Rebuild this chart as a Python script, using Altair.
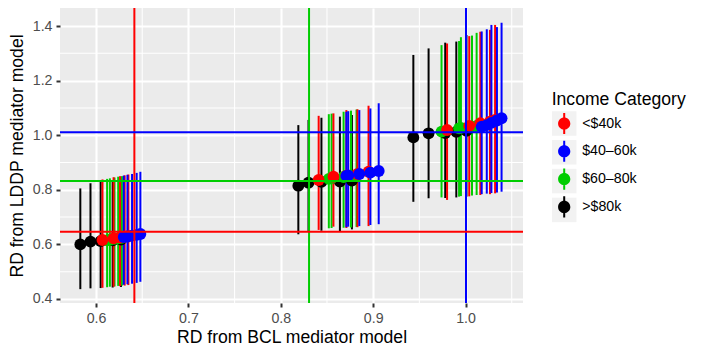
import altair as alt
import pandas as pd

# ---------------- data ----------------
categories = ["<$40k", "\u00a0$40\u201360k", "$60\u201380k", ">$80k"]
cat_colors = ["#FF0000", "#0000FF", "#00CD00", "#000000"]
key_ids = ["k1", "k2", "k3", "k4"]

red_x = [0.607, 0.619, 0.626, 0.631, 0.635, 0.841, 0.857, 0.871, 0.883, 0.895, 0.980, 1.004, 1.016, 1.0265, 1.032]
red_y = [0.616, 0.622, 0.625, 0.628, 0.630, 0.836, 0.848, 0.852, 0.858, 0.866, 1.019, 1.034, 1.044, 1.050, 1.056]
red_lo = [0.441, 0.445, 0.447, 0.449, 0.451, 0.653, 0.665, 0.660, 0.663, 0.667, 0.763, 0.776, 0.781, 0.784, 0.787]
red_hi = [0.838, 0.846, 0.850, 0.853, 0.856, 1.071, 1.080, 1.092, 1.095, 1.108, 1.336, 1.363, 1.379, 1.386, 1.404]

blue_x = [0.630, 0.634, 0.639, 0.644, 0.648, 0.871, 0.873, 0.885, 0.897, 0.906, 1.0175, 1.023, 1.028, 1.034, 1.039]
blue_y = [0.627, 0.629, 0.632, 0.635, 0.638, 0.851, 0.853, 0.858, 0.863, 0.869, 1.031, 1.037, 1.045, 1.054, 1.062]
blue_lo = [0.452, 0.454, 0.456, 0.459, 0.463, 0.663, 0.665, 0.667, 0.671, 0.674, 0.784, 0.786, 0.788, 0.790, 0.793]
blue_hi = [0.852, 0.855, 0.858, 0.862, 0.866, 1.086, 1.088, 1.092, 1.098, 1.117, 1.380, 1.388, 1.404, 1.396, 1.412]

green_x = [0.612, 0.615, 0.620, 0.624, 0.628, 0.852, 0.855, 0.868, 0.876, 0.882, 0.974, 0.993, 0.995, 1.007, 1.012]
green_y = [0.615, 0.617, 0.620, 0.622, 0.624, 0.840, 0.843, 0.847, 0.850, 0.854, 1.013, 1.025, 1.027, 1.030, 1.034]
green_lo = [0.443, 0.445, 0.446, 0.448, 0.449, 0.659, 0.660, 0.661, 0.662, 0.664, 0.772, 0.775, 0.777, 0.779, 0.781]
green_hi = [0.840, 0.842, 0.845, 0.848, 0.850, 1.077, 1.079, 1.086, 1.090, 1.094, 1.330, 1.345, 1.359, 1.365, 1.375]

black_x = [0.583, 0.594, 0.605, 0.618, 0.627, 0.819, 0.830, 0.844, 0.864, 0.877, 0.9435, 0.960, 0.978, 0.990, 1.001]
black_y = [0.600, 0.610, 0.612, 0.615, 0.618, 0.815, 0.826, 0.829, 0.830, 0.834, 0.992, 1.007, 1.008, 1.012, 1.016]
black_lo = [0.436, 0.439, 0.440, 0.442, 0.444, 0.637, 0.647, 0.650, 0.647, 0.655, 0.756, 0.769, 0.770, 0.772, 0.775]
black_hi = [0.805, 0.824, 0.830, 0.834, 0.838, 1.037, 1.056, 1.064, 1.068, 1.074, 1.294, 1.318, 1.339, 1.343, 1.367]

# reference lines (red, blue, green)
ref_colors = ["#FF0000", "#0000FF", "#00CD00"]
vline_x = [0.6415, 1.0005, 0.8306]
hline_y = [0.6465, 1.0106, 0.8322]

x_ticks = [0.6, 0.7, 0.8, 0.9, 1.0]
y_ticks = [0.4, 0.6, 0.8, 1.0, 1.2, 1.4]
x_minor = [0.65, 0.75, 0.85, 0.95, 1.05]
y_minor = [0.5, 0.7, 0.9, 1.1, 1.3]

x_domain = [0.561, 1.0622]
y_domain = [0.3853, 1.466]

# ---------------- tables ----------------
series = [
    (categories[3], "#000000", black_x, black_y, black_lo, black_hi),
    (categories[2], "#00CD00", green_x, green_y, green_lo, green_hi),
    (categories[0], "#FF0000", red_x, red_y, red_lo, red_hi),
    (categories[1], "#0000FF", blue_x, blue_y, blue_lo, blue_hi),
]
rows = []
order = 0
for cat, col, xs, ys, los, his in series:
    for xv, yv, lo, hi in zip(xs, ys, los, his):
        rows.append({"cat": cat, "hex": col, "x": xv, "y": yv, "lo": lo, "hi": hi, "ord": order})
        order += 1
df = pd.DataFrame(rows)

df_v = pd.DataFrame({"hex": ref_colors, "x": vline_x})
df_h = pd.DataFrame({"hex": ref_colors, "y": hline_y})
df_vm = pd.DataFrame({"x": x_minor})
df_hm = pd.DataFrame({"y": y_minor})
df_leg = pd.DataFrame({"key": key_ids})

FONT = "Liberation Sans"
LAB = 14.2
TTL = 17.6

x_axis = alt.Axis(values=x_ticks, format=".1f", title="RD from BCL mediator model",
                  grid=True, gridColor="white", gridWidth=2.1,
                  tickColor="#333333", tickWidth=2, tickSize=4, labelPadding=4,
                  labelFontSize=LAB, labelColor="#4D4D4D", labelFont=FONT,
                  titleFont=FONT, titleFontSize=TTL, titleFontWeight="normal",
                  titleColor="black", titlePadding=3.6, domain=False,
                  labelFlush=False, labelOverlap=False)
y_axis = alt.Axis(values=y_ticks, format=".1f", title="RD from LDDP mediator model",
                  grid=True, gridColor="white", gridWidth=2.1,
                  tickColor="#333333", tickWidth=2, tickSize=4, labelPadding=4,
                  labelFontSize=LAB, labelColor="#4D4D4D", labelFont=FONT,
                  titleFont=FONT, titleFontSize=TTL, titleFontWeight="normal",
                  titleColor="black", titlePadding=6, domain=False,
                  labelFlush=False, labelOverlap=False)

xs_scale = alt.Scale(domain=x_domain, nice=False, zero=False)
ys_scale = alt.Scale(domain=y_domain, nice=False, zero=False)


def X(field="x"):
    return alt.X(f"{field}:Q", scale=xs_scale, axis=x_axis)


def Y(field="y"):
    return alt.Y(f"{field}:Q", scale=ys_scale, axis=y_axis)


minor_v = alt.Chart(df_vm).mark_rule(color="white", strokeWidth=1.05).encode(x=X())
minor_h = alt.Chart(df_hm).mark_rule(color="white", strokeWidth=1.05).encode(y=Y())

bars = alt.Chart(df).mark_rule(strokeWidth=2).encode(
    x=X(), y=alt.Y("lo:Q", scale=ys_scale, axis=y_axis), y2="hi:Q",
    color=alt.Color("hex:N", scale=None), order="ord:Q",
)

pr_symbol = ("M-0.082,-0.86H0.082V0.86H-0.082Z "
             "M-0.5,0A0.5,0.5 0 1,1 0.5,0A0.5,0.5 0 1,1 -0.5,0Z")

LEG_X = 491.7
LEG_Y = 83
TITLE_PAD = 2.4

points = alt.Chart(df).mark_circle(size=140, opacity=1).encode(
    x=X(), y=Y(),
    color=alt.Color("cat:N", scale=alt.Scale(domain=categories, range=cat_colors),
                    legend=alt.Legend(title="Income Category", orient="none",
                                      legendX=LEG_X, legendY=LEG_Y, direction="vertical",
                                      titleFont=FONT, titleFontSize=TTL,
                                      titleFontWeight="normal", titleColor="black",
                                      titlePadding=TITLE_PAD, labelFont=FONT, labelFontSize=LAB,
                                      labelColor="black", labelOffset=5.5,
                                      symbolType=pr_symbol, symbolSize=600,
                                      symbolStrokeWidth=0, symbolOpacity=1,
                                      rowPadding=3.8, padding=0, zindex=2)),
    order="ord:Q",
)

vlines = alt.Chart(df_v).mark_rule(strokeWidth=2).encode(
    x=X(), color=alt.Color("hex:N", scale=None))
hlines = alt.Chart(df_h).mark_rule(strokeWidth=2).encode(
    y=Y(), color=alt.Color("hex:N", scale=None))

keys = alt.Chart(df_leg).transform_filter("false").mark_point(
    filled=True, color="#F2F2F2", opacity=1).encode(
    shape=alt.Shape("key:N", scale=alt.Scale(domain=key_ids, range=["square"] * 4),
                    legend=alt.Legend(title=None, orient="none",
                                      legendX=LEG_X, legendY=LEG_Y + TTL + TITLE_PAD,
                                      direction="vertical",
                                      labelExpr="''", labelFontSize=LAB, labelOffset=0,
                                      symbolType="square", symbolSize=600,
                                      symbolFillColor="#F2F2F2", symbolStrokeWidth=0,
                                      symbolOpacity=1, rowPadding=3.8, padding=0, zindex=1))
)

chart = alt.layer(minor_v, minor_h, bars, points, vlines, hlines, keys).properties(
    width=463, height=295,
    autosize=alt.AutoSizeParams(type="none"),
    padding={"left": 52, "top": 0, "right": 175, "bottom": 45},
    background="white",
    view=alt.ViewBackground(fill="#EBEBEB", strokeWidth=0),
).configure_view(fill="#EBEBEB", strokeWidth=0)

chart.save("out.html", embed_options={"renderer": "svg", "actions": False})
